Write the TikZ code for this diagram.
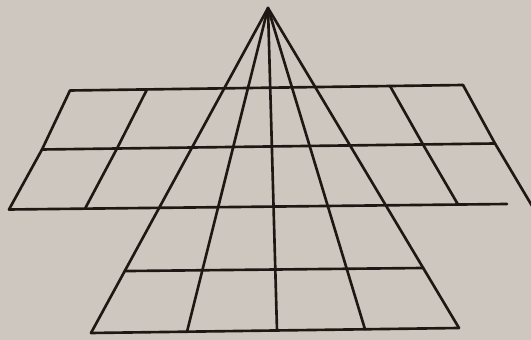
\documentclass[tikz,border=0pt]{standalone}
\definecolor{paper}{RGB}{206,199,191}
\definecolor{ink}{RGB}{30,24,20}
\begin{document}
\begin{tikzpicture}[x=0.02cm,y=-0.02cm,
  ln/.style={line width=1.5pt, draw=ink, line cap=round, line join=round}]
\fill[paper] (0,0) rectangle (531,340);
\useasboundingbox (0,0) rectangle (531,340);
\clip (0,0) rectangle (531,340);
% apex and fan feet
\coordinate (A) at (268,8);
\coordinate (b1) at (91,333);
\coordinate (b2) at (187,331.7);
\coordinate (b3) at (277,330.5);
\coordinate (b4) at (365,329.3);
\coordinate (b5) at (459,328);
% upper block corners
\coordinate (t1) at (70,90.5);
\coordinate (t2) at (147,89.4);
\coordinate (t3) at (390,86);
\coordinate (t4) at (463,85);
\coordinate (m1) at (42,149.5);
\coordinate (m2) at (117,148.5);
\coordinate (m3) at (423,144.5);
\coordinate (m4) at (495,143.5);
\coordinate (u1) at (9,209.5);
\coordinate (u2) at (85,208.7);
\coordinate (u3) at (458,204.5);
\coordinate (u4) at (507,204);
\coordinate (u5) at (533,207.5);
% lower block middle line
\coordinate (la) at (100,271.3);
\coordinate (lb) at (440,267.8);
\coordinate (l1) at (intersection of A--b1 and la--lb);
\coordinate (l5) at (intersection of A--b5 and la--lb);
% horizontals
\draw[ln] (t1) -- (t4);
\draw[ln] (m1) -- (m4);
\draw[ln] (u1) -- (u4);
\draw[ln] (l1) -- (l5);
\draw[ln] (b1) -- (b5);
% slanted edges of upper block
\draw[ln] (t1) -- (m1) -- (u1);
\draw[ln] (t2) -- (m2) -- (u2);
\draw[ln] (t3) -- (m3) -- (u3);
\draw[ln] (t4) -- (m4) -- (u5);
% fan from apex
\foreach \b in {b1,b2,b3,b4,b5} \draw[ln] (A) -- (\b);
\end{tikzpicture}
\end{document}
